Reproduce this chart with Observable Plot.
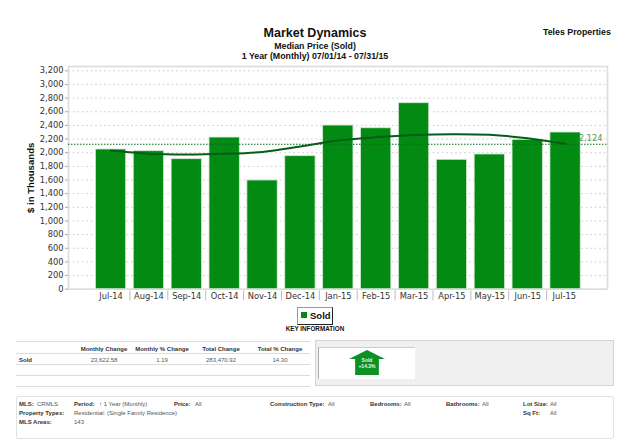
<!DOCTYPE html>
<html>
<head>
<meta charset="utf-8">
<script src="https://cdn.jsdelivr.net/npm/d3@7"></script>
<script src="https://cdn.jsdelivr.net/npm/@observablehq/plot@0.6"></script>
<style>
html,body{margin:0;padding:0;background:#fff;width:640px;height:443px;overflow:hidden}
#page{position:relative;width:640px;height:443px;font-family:"Liberation Sans",Arial,sans-serif;color:#111}
#chart{position:absolute;left:0;top:60px}
#chart svg{display:block;background:transparent}
#chart [aria-label="y-axis label"]{font:bold 9.6px "Liberation Sans",sans-serif;fill:#111}
#chart [aria-label="y-axis tick label"],#chart [aria-label="x-axis tick label"]{fill:#333}
.t{position:absolute;white-space:nowrap;line-height:1;transform:translateY(-50%)}
.c{transform:translate(-50%,-50%)}
.b{font-weight:bold}
.s{font-size:6px;color:#555}
.sb{font-size:6px;color:#333;font-weight:bold}
.box{position:absolute;box-sizing:border-box}
</style>
</head>
<body>
<div id="page"><div id="chart"></div></div>
<script>
const months = ["Jul-14","Aug-14","Sep-14","Oct-14","Nov-14","Dec-14","Jan-15","Feb-15","Mar-15","Apr-15","May-15","Jun-15","Jul-15 "];
const sold = [2047,2022,1905,2222,1593,1949,2398,2358,2725,1896,1974,2189,2296];
const trend = [2032,1985,1973,1984,2012,2090,2178,2225,2258,2271,2262,2212,2130];
const average = 2124;
const yTicks = d3.range(0,3201,200);
const legendLabel = "Sold";
const tableHead = ["Monthly Change","Monthly % Change","Total Change","Total % Change"];
const tableRow = ["23,622.58","1.19","283,470.92","14.30"];

const rows = months.map((m,i)=>({m,v:sold[i],t:trend[i]}));
const chart = Plot.plot({
  width:640,height:245,
  marginLeft:68,marginRight:33,marginTop:6,marginBottom:16.3,
  style:{background:"transparent",fontFamily:"'DejaVu Sans',sans-serif",fontSize:"8.3px",overflow:"visible"},
  x:{domain:months,range:[87.8,587.8],padding:0.2,round:false,label:null},
  y:{domain:[0,3263],label:null},
  marks:[
    Plot.gridY(yTicks,{stroke:"#d4d4d4",strokeOpacity:1,strokeDasharray:"2,2.5"}),
    Plot.frame({stroke:"#dcdcdc",strokeWidth:1.6}),
    Plot.barY(rows,{x:"m",y:"v",fill:"#038a12",stroke:"#d5e8d5",strokeWidth:0.8}),
    Plot.ruleY([average],{stroke:"#0a6e1c",strokeWidth:1.2,strokeDasharray:"1.5,1.5"}),
    Plot.line(rows,{x:"m",y:"t",curve:"catmull-rom",stroke:"#075c18",strokeWidth:2}),
    Plot.text([average],{x:()=>months[12],y:d=>d,text:d=>d3.format(",")(d),dx:25,dy:-6,fill:"#4f9a5b",fontSize:8.3}),
    Plot.ruleX(months.slice(1),{x:d=>d,dx:-18.95,y1:()=>-25,y2:()=>-170,stroke:"#aaa",strokeWidth:0.8}),
    Plot.axisY(yTicks,{label:"$ in Thousands",labelAnchor:"center",labelArrow:"none",labelOffset:41,tickSize:3,tickPadding:2,stroke:"#aaa",tickFormat:d3.format(","),fontSize:8.3}),
    Plot.axisX({tickSize:0,tickPadding:3.5,fontSize:8.3,label:null})
  ]
});
document.getElementById("chart").append(chart);

const page = document.getElementById("page");
function put(x,y,text,cls,extra){
  const e=document.createElement("div");
  e.className="t "+cls;e.textContent=text;
  e.style.left=x+"px";e.style.top=y+"px";
  if(extra)Object.assign(e.style,extra);
  page.append(e);return e;
}
function box(x,y,w,h,style){
  const e=document.createElement("div");
  e.className="box";
  Object.assign(e.style,{left:x+"px",top:y+"px",width:w+"px",height:h+"px"},style);
  page.append(e);return e;
}
// header
put(315,33,"Market Dynamics","c b",{fontSize:"12.5px"});
put(315,46,"Median Price (Sold)","c b",{fontSize:"8.8px"});
put(315,56,"1 Year (Monthly) 07/01/14 - 07/31/15","c b",{fontSize:"8.8px"});
put(543,32,"Teles Properties","b",{fontSize:"8.8px"});
// legend
box(297,307,36,17.5,{border:"1.5px solid #222",borderLeftColor:"#999",borderTopColor:"#999",background:"#fff"});
box(300.5,312,6,6,{background:"#038a12"});
put(310,315.5,legendLabel,"b",{fontSize:"9.5px"});
put(315,329,"KEY INFORMATION","c b",{fontSize:"6.3px"});
// table
[340.5,353,364,375,385.5].forEach(y=>box(16,y,294,1,{background:"#dcdcdc"}));
[104,162,221,280].forEach((x,i)=>{
  put(x,348.5,tableHead[i],"c sb");
  put(x,359.5,tableRow[i],"c s");
});
put(19,359.5,legendLabel,"sb");
// summary panel
box(315,340,299,46,{background:"#f0f0f0",border:"1px solid #d4d4d4"});
box(318,346.5,97,32,{background:"#fff",borderLeft:"1px solid #aaa",borderTop:"1px solid #ccc"});
box(349,350,36,25,{background:"#0c9124",clipPath:"polygon(50% 0,100% 36%,83% 36%,83% 100%,17% 100%,17% 36%,0 36%)"});
put(367,359.5,"Sold","c b",{fontSize:"5px",color:"#eaf5ea"});
put(367,366,"+14.3%","c b",{fontSize:"5px",color:"#eaf5ea"});
// filter box
box(16,396,598,42.5,{border:"1px solid #e2e2e2",borderRadius:"2px"});
const bold=(x,y,s)=>put(x,y,s,"sb");
const norm=(x,y,s)=>put(x,y,s,"s");
bold(19,403.5,"MLS:");norm(37,403.5,"CRMLS");
bold(74,403.5,"Period:");norm(99,403.5,"↑ 1 Year (Monthly)");
bold(174,403.5,"Price:");norm(195,403.5,"All");
bold(270,403.5,"Construction Type:");norm(328,403.5,"All");
bold(370,403.5,"Bedrooms:");norm(404,403.5,"All");
bold(446,403.5,"Bathrooms:");norm(482,403.5,"All");
bold(523,403.5,"Lot Size:");norm(550,403.5,"All");
bold(19,412.5,"Property Types:");norm(74,412.5,"Residential: (Single Family Residence)");
bold(523,412.5,"Sq Ft:");norm(550,412.5,"All");
bold(19,421.5,"MLS Areas:");norm(74,421.5,"143");
</script>
</body>
</html>
